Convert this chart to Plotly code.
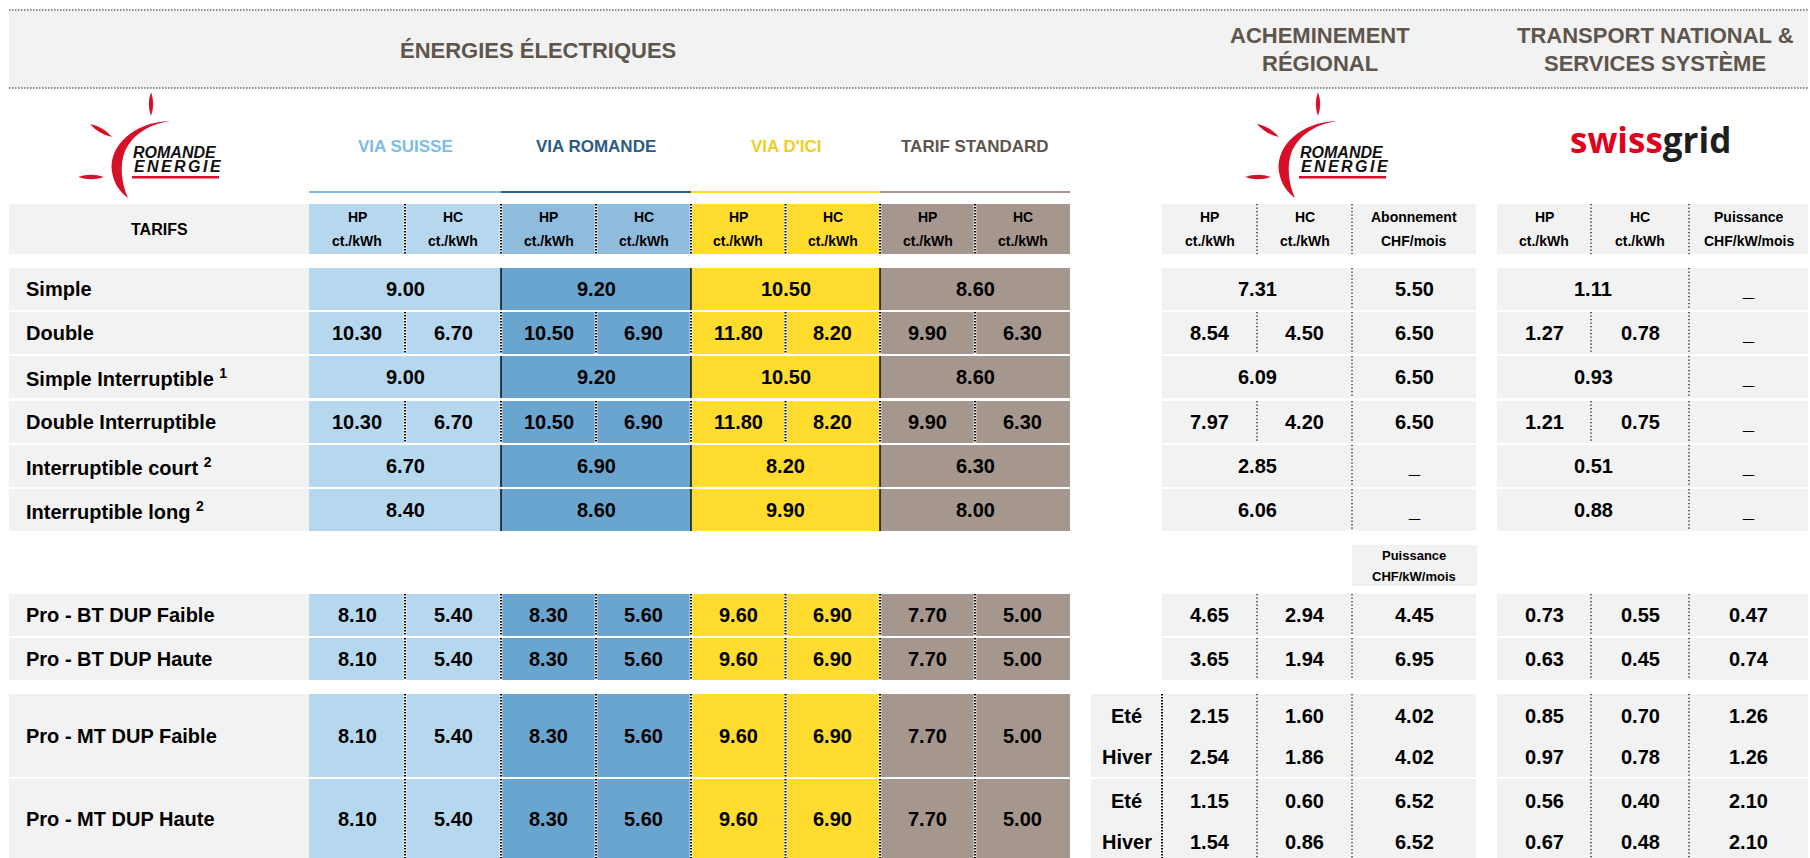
import plotly.graph_objects as go

# ------------------------------------------------------------------ data
top_labels = ["Simple", "Double", "Simple Interruptible <sup>1</sup>", "Double Interruptible",
              "Interruptible court <sup>2</sup>", "Interruptible long <sup>2</sup>"]
pro_labels = ["Pro - BT DUP Faible", "Pro - BT DUP Haute", "Pro - MT DUP Faible", "Pro - MT DUP Haute"]
products = ["VIA SUISSE", "VIA ROMANDE", "VIA D'ICI", "TARIF STANDARD"]
seasons = ["Eté", "Hiver"]

via_suisse_hp = [9.00, 10.30, 9.00, 10.30, 6.70, 8.40]
via_suisse_hc = [None, 6.70, None, 6.70, None, None]
via_romande_hp = [9.20, 10.50, 9.20, 10.50, 6.90, 8.60]
via_romande_hc = [None, 6.90, None, 6.90, None, None]
via_dici_hp = [10.50, 11.80, 10.50, 11.80, 8.20, 9.90]
via_dici_hc = [None, 8.20, None, 8.20, None, None]
standard_hp = [8.60, 9.90, 8.60, 9.90, 6.30, 8.00]
standard_hc = [None, 6.30, None, 6.30, None, None]

ach_hp = [7.31, 8.54, 6.09, 7.97, 2.85, 6.06]
ach_hc = [None, 4.50, None, 4.20, None, None]
ach_abo = [5.50, 6.50, 6.50, 6.50, None, None]
sg_hp = [1.11, 1.27, 0.93, 1.21, 0.51, 0.88]
sg_hc = [None, 0.78, None, 0.75, None, None]
sg_puis = [None, None, None, None, None, None]

pro_via_suisse_hp = [8.10, 8.10, 8.10, 8.10]
pro_via_suisse_hc = [5.40, 5.40, 5.40, 5.40]
pro_via_romande_hp = [8.30, 8.30, 8.30, 8.30]
pro_via_romande_hc = [5.60, 5.60, 5.60, 5.60]
pro_via_dici_hp = [9.60, 9.60, 9.60, 9.60]
pro_via_dici_hc = [6.90, 6.90, 6.90, 6.90]
pro_standard_hp = [7.70, 7.70, 7.70, 7.70]
pro_standard_hc = [5.00, 5.00, 5.00, 5.00]

# lines: BT Faible, BT Haute, MT Faible (Eté, Hiver), MT Haute (Eté, Hiver)
pro_ach_hp = [4.65, 3.65, 2.15, 2.54, 1.15, 1.54]
pro_ach_hc = [2.94, 1.94, 1.60, 1.86, 0.60, 0.86]
pro_ach_p = [4.45, 6.95, 4.02, 4.02, 6.52, 6.52]
pro_sg_hp = [0.73, 0.63, 0.85, 0.97, 0.56, 0.67]
pro_sg_hc = [0.55, 0.45, 0.70, 0.78, 0.40, 0.48]
pro_sg_p = [0.47, 0.74, 1.26, 1.26, 2.10, 2.10]
pro_lines_per_row = [1, 1, 2, 2]

# ------------------------------------------------------------------ layout / style
W, H = 1810, 858
FONT = "Liberation Sans, Arial, Helvetica, sans-serif"
GRAY = "#f2f2f2"
TITLE_COL = "#5e554d"
RED = "#d7102a"

LABEL_X = (9, 309)
GROUPS = [(309, 501), (501, 691), (691, 880), (880, 1070)]
fills_data = ["#b5d8ee", "#6aa5d0", "#ffdc2d", "#a5978e"]
fills_head = ["#b5d8ee", "#8fbbdd", "#ffdc2d", "#a5978e"]
under_cols = ["#7dbbe4", "#2a5e87", "#ffd82a", "#a5978e"]
title_cols = ["#7cbde6", "#2b5c85", "#f2cd1e", "#5f554e"]
SEASON_X = (1091, 1162)
ACH = [1162, 1257, 1352, 1476]
SG = [1497, 1591, 1689, 1808]

TOP_ROWS = [(268, 310), (312, 354), (356, 398), (401, 443), (445, 487), (489, 531)]
PRO_ROWS = [(594, 636), (638, 680), (694, 777), (779, 858)]
SUB_OFFS = [22, 63]

energy_hp = [via_suisse_hp, via_romande_hp, via_dici_hp, standard_hp]
energy_hc = [via_suisse_hc, via_romande_hc, via_dici_hc, standard_hc]
pro_energy_hp = [pro_via_suisse_hp, pro_via_romande_hp, pro_via_dici_hp, pro_standard_hp]
pro_energy_hc = [pro_via_suisse_hc, pro_via_romande_hc, pro_via_dici_hc, pro_standard_hc]

shapes, annotations = [], []


def rect(x0, x1, y0, y1, color):
    shapes.append(dict(type="rect", xref="x", yref="y", x0=x0, x1=x1, y0=y0, y1=y1,
                       fillcolor=color, line=dict(width=0)))


def vline(x, y0, y1, style):
    if style == "bw":
        shapes.append(dict(type="line", xref="x", yref="y", x0=x, x1=x, y0=y0, y1=y1,
                           line=dict(color="white", width=2.6)))
        shapes.append(dict(type="line", xref="x", yref="y", x0=x, x1=x, y0=y0, y1=y1,
                           line=dict(color="black", width=2, dash="1.5px,1.5px")))
    elif style == "solid":
        shapes.append(dict(type="line", xref="x", yref="y", x0=x, x1=x, y0=y0, y1=y1,
                           line=dict(color="black", width=1.4)))
    else:
        shapes.append(dict(type="line", xref="x", yref="y", x0=x, x1=x, y0=y0, y1=y1,
                           line=dict(color="#111111", width=1.3, dash="1.3px,2.2px")))


def text(x, y, s, size=20, color="black", bold=True, anchor="center", family=FONT, italic=False):
    t = s
    if italic:
        t = "<i>" + t + "</i>"
    if bold:
        t = "<b>" + t + "</b>"
    annotations.append(dict(x=x, y=y, xref="x", yref="y", text=t, showarrow=False,
                            xanchor=anchor, yanchor="middle",
                            font=dict(family=family, size=size, color=color)))


def fmt(v):
    return "_" if v is None else f"{v:.2f}"


def lens(p1, p2, w):
    mx, my = (p1[0] + p2[0]) / 2, (p1[1] + p2[1]) / 2
    dx, dy = p2[0] - p1[0], p2[1] - p1[1]
    L = (dx * dx + dy * dy) ** 0.5
    nx, ny = -dy / L * 2 * w, dx / L * 2 * w
    return (f"M {p1[0]} {p1[1]} Q {mx + nx} {my + ny} {p2[0]} {p2[1]} "
            f"Q {mx - nx} {my - ny} {p1[0]} {p1[1]} Z")


def romande_logo(dx):
    crescent = (f"M {170+dx} 121 C {134+dx} 122, {108+dx} 146, {112+dx} 172 "
                f"C {114+dx} 184, {120+dx} 192, {128+dx} 198 "
                f"C {122+dx} 185, {119+dx} 166, {125+dx} 151 "
                f"C {133+dx} 134, {150+dx} 124, {170+dx} 121 Z")
    shapes.append(dict(type="path", xref="x", yref="y", path=crescent, fillcolor=RED,
                       line=dict(width=0)))
    for p1, p2 in [((151 + dx, 92), (151 + dx, 116)), ((90 + dx, 124), (112 + dx, 137)),
                   ((78 + dx, 177), (104 + dx, 177))]:
        shapes.append(dict(type="path", xref="x", yref="y", path=lens(p1, p2, 2.2),
                           fillcolor=RED, line=dict(width=0)))
    text(131 + dx, 152, "ROMANDE", size=16, color="#111111", anchor="left", italic=True)
    widths = [0.667, 0.722, 0.667, 0.722, 0.778, 0.278, 0.667]
    x = 132 + dx
    for ch, w in zip("ENERGIE", widths):
        text(x, 166.5, ch, size=16, color="#111111", anchor="left", italic=True)
        x += w * 16 + 2.4
    shapes.append(dict(type="line", xref="x", yref="y", x0=132 + dx, x1=219 + dx, y0=177.3,
                       y1=177.3, line=dict(color=RED, width=2.4)))


# ------------------------------------------------------------------ top header band
rect(9, 1808, 10, 88, GRAY)
for yy in (10, 88):
    shapes.append(dict(type="line", xref="x", yref="y", x0=9, x1=1808, y0=yy, y1=yy,
                       line=dict(color="#6a6a6a", width=1.5, dash="1.5px,1.5px")))
text(538, 50, "ÉNERGIES ÉLECTRIQUES", size=22, color=TITLE_COL)
text(1320, 35, "ACHEMINEMENT", size=22, color=TITLE_COL)
text(1320, 63, "RÉGIONAL", size=22, color=TITLE_COL)
text(1655, 35, "TRANSPORT NATIONAL &amp;", size=22, color=TITLE_COL)
text(1655, 63, "SERVICES SYSTÈME", size=22, color=TITLE_COL)

# logos
romande_logo(0)
romande_logo(1167)
annotations.append(dict(x=1650, y=139, xref="x", yref="y", showarrow=False,
                        xanchor="center", yanchor="middle",
                        text="<span style='color:#e2001a'>swiss</span><span style='color:#1e1e1e'>grid</span>",
                        font=dict(family="Open Sans", size=35, weight=700)))

# product titles + underlines
for (x0, x1), name, tc, uc in zip(GROUPS, products, title_cols, under_cols):
    text((x0 + x1) / 2, 146, name, size=17, color=tc)
    shapes.append(dict(type="line", xref="x", yref="y", x0=x0, x1=x1, y0=192, y1=192,
                       line=dict(color=uc, width=2.2)))

# ------------------------------------------------------------------ column header row
HY0, HY1 = 204, 254
rect(LABEL_X[0], LABEL_X[1], HY0, HY1, GRAY)
text(159, 229, "TARIFS", size=16)
for gi, ((x0, x1), fc) in enumerate(zip(GROUPS, fills_head)):
    rect(x0, x1, HY0, HY1, fc)
for gi, (x0, x1) in enumerate(GROUPS):
    mid = (x0 + x1) / 2
    for cx, lab in (((x0 + mid) / 2, "HP"), ((mid + x1) / 2, "HC")):
        text(cx, 217, lab, size=14)
        text(cx, 241, "ct./kWh", size=14)
    vline(mid, HY0, HY1, "bw")
    if gi > 0:
        vline(x0, HY0, HY1, "bw")
rect(ACH[0], ACH[3], HY0, HY1, GRAY)
rect(SG[0], SG[3], HY0, HY1, GRAY)
for cols, heads, units in ((ACH, ["HP", "HC", "Abonnement"], ["ct./kWh", "ct./kWh", "CHF/mois"]),
                           (SG, ["HP", "HC", "Puissance"], ["ct./kWh", "ct./kWh", "CHF/kW/mois"])):
    for k in range(3):
        cx = (cols[k] + cols[k + 1]) / 2
        text(cx, 217, heads[k], size=14)
        text(cx, 241, units[k], size=14)
    vline(cols[1], HY0, HY1, "dot")
    vline(cols[2], HY0, HY1, "dot")

# ------------------------------------------------------------------ top rows
for i, (y0, y1) in enumerate(TOP_ROWS):
    yc = (y0 + y1) / 2
    double = energy_hc[0][i] is not None
    rect(LABEL_X[0], LABEL_X[1], y0, y1, GRAY)
    text(24, yc, top_labels[i], size=20, anchor="left")
    for gi, (x0, x1) in enumerate(GROUPS):
        rect(x0, x1, y0, y1, fills_data[gi])
    for gi, (x0, x1) in enumerate(GROUPS):
        mid = (x0 + x1) / 2
        hp, hc = energy_hp[gi][i], energy_hc[gi][i]
        if hc is None:
            text(mid, yc, fmt(hp))
        else:
            text((x0 + mid) / 2, yc, fmt(hp))
            text((mid + x1) / 2, yc, fmt(hc))
            vline(mid, y0, y1, "bw")
        if gi > 0:
            vline(x0, y0, y1, "bw" if double else "solid")
    # acheminement
    rect(ACH[0], ACH[3], y0, y1, GRAY)
    if ach_hc[i] is None:
        text((ACH[0] + ACH[2]) / 2, yc, fmt(ach_hp[i]))
    else:
        text((ACH[0] + ACH[1]) / 2, yc, fmt(ach_hp[i]))
        text((ACH[1] + ACH[2]) / 2, yc, fmt(ach_hc[i]))
        vline(ACH[1], y0, y1, "dot")
    text((ACH[2] + ACH[3]) / 2, yc, fmt(ach_abo[i]))
    vline(ACH[2], y0, y1, "dot")
    # swissgrid
    rect(SG[0], SG[3], y0, y1, GRAY)
    if sg_hc[i] is None:
        text((SG[0] + SG[2]) / 2, yc, fmt(sg_hp[i]))
    else:
        text((SG[0] + SG[1]) / 2, yc, fmt(sg_hp[i]))
        text((SG[1] + SG[2]) / 2, yc, fmt(sg_hc[i]))
        vline(SG[1], y0, y1, "dot")
    text((SG[2] + SG[3]) / 2, yc, fmt(sg_puis[i]))
    vline(SG[2], y0, y1, "dot")

# small header above pro rows
rect(ACH[2], ACH[3] + 1, 545, 586, GRAY)
text((ACH[2] + ACH[3]) / 2, 555, "Puissance", size=13)
text((ACH[2] + ACH[3]) / 2, 576, "CHF/kW/mois", size=13)

# ------------------------------------------------------------------ pro rows
line_idx = 0
for r, (y0, y1) in enumerate(PRO_ROWS):
    yc = (y0 + y1) / 2
    rect(LABEL_X[0], LABEL_X[1], y0, y1, GRAY)
    text(24, yc, pro_labels[r], size=20, anchor="left")
    for gi, (x0, x1) in enumerate(GROUPS):
        rect(x0, x1, y0, y1, fills_data[gi])
    for gi, (x0, x1) in enumerate(GROUPS):
        mid = (x0 + x1) / 2
        text((x0 + mid) / 2, yc, fmt(pro_energy_hp[gi][r]))
        text((mid + x1) / 2, yc, fmt(pro_energy_hc[gi][r]))
        vline(mid, y0, y1, "bw")
        if gi > 0:
            vline(x0, y0, y1, "bw")
    rect(ACH[0], ACH[3], y0, y1, GRAY)
    rect(SG[0], SG[3], y0, y1, GRAY)
    n = pro_lines_per_row[r]
    ys = [yc] if n == 1 else [y0 + o for o in SUB_OFFS]
    if n == 2:
        rect(SEASON_X[0], SEASON_X[1], y0, y1, GRAY)
        for s, yy in zip(seasons, ys):
            text((SEASON_X[0] + SEASON_X[1]) / 2, yy, s)
    for yy in ys:
        k = line_idx
        text((ACH[0] + ACH[1]) / 2, yy, fmt(pro_ach_hp[k]))
        text((ACH[1] + ACH[2]) / 2, yy, fmt(pro_ach_hc[k]))
        text((ACH[2] + ACH[3]) / 2, yy, fmt(pro_ach_p[k]))
        text((SG[0] + SG[1]) / 2, yy, fmt(pro_sg_hp[k]))
        text((SG[1] + SG[2]) / 2, yy, fmt(pro_sg_hc[k]))
        text((SG[2] + SG[3]) / 2, yy, fmt(pro_sg_p[k]))
        line_idx += 1
    for xx in (ACH[1], ACH[2], SG[1], SG[2]):
        vline(xx, y0, y1, "dot")
    if n == 2:
        vline(ACH[0], y0, y1, "bw")

# ------------------------------------------------------------------ figure
fig = go.Figure()
fig.update_layout(
    width=W, height=H, autosize=False,
    margin=dict(l=0, r=0, t=0, b=0, pad=0),
    paper_bgcolor="white", plot_bgcolor="white",
    xaxis=dict(range=[0, W], visible=False, fixedrange=True),
    yaxis=dict(range=[H, 0], visible=False, fixedrange=True),
    shapes=shapes, annotations=annotations, showlegend=False,
)
fig.write_html("out.html", config={"displayModeBar": False},
               post_script="document.body.style.margin='0';document.body.style.overflow='hidden';")
